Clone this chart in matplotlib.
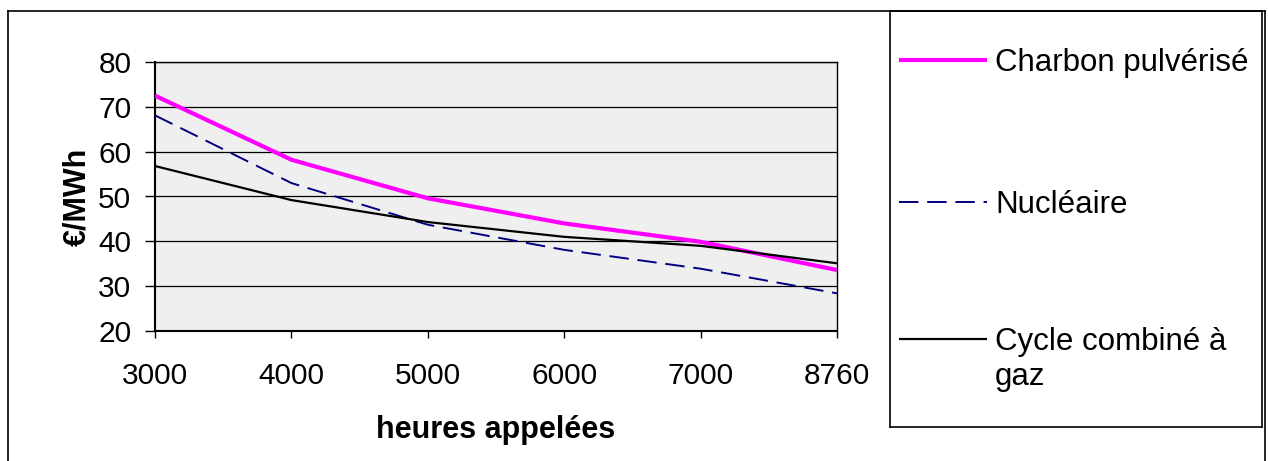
import matplotlib
matplotlib.use("Agg")
import matplotlib.pyplot as plt
from matplotlib.lines import Line2D
import numpy as np

plt.rcParams["font.family"] = ["Liberation Sans", "DejaVu Sans"]
plt.rcParams["font.size"] = 21.5

hours = ["3000", "4000", "5000", "6000", "7000", "8760"]
charbon = [72.5, 58.2, 49.6, 44.0, 39.9, 33.6]
nucleaire = [68.1, 53.0, 43.7, 38.1, 33.9, 28.4]
ccg = [56.8, 49.2, 44.3, 41.0, 39.0, 35.1]

labels = ["Charbon pulvérisé", "Nucléaire", "Cycle combiné à\ngaz"]

W, H = 1268, 461
fig = plt.figure(figsize=(W / 100, H / 100), dpi=100)

# plot area in pixel coordinates
left, right, top, bottom = 155, 837, 62, 331
ax = fig.add_axes([left / W, 1 - bottom / H, (right - left) / W, (bottom - top) / H])
ax.set_facecolor("#efefef")

x = np.arange(len(hours))
styles = [
    dict(color="#ff00ff", linewidth=3.0, linestyle="-"),
    dict(color="#000080", linewidth=1.4, linestyle=(0, (10, 4.5))),
    dict(color="black", linewidth=1.6, linestyle="-"),
]
for series, st in zip([charbon, nucleaire, ccg], styles):
    ax.plot(x, series, solid_capstyle="butt", dash_capstyle="butt", zorder=3, **st)

ax.set_xlim(0, len(hours) - 1)
ax.set_ylim(20, 80)
ax.set_yticks(range(20, 81, 10))
ax.set_xticks(x)
ax.set_xticklabels(hours)
ax.grid(True, axis="y", color="black", linewidth=0.9)
ax.set_axisbelow(True)
for s in ax.spines.values():
    s.set_color("black")
    s.set_linewidth(1)
ax.spines["left"].set_linewidth(1.5)
ax.spines["bottom"].set_linewidth(1.5)
ax.tick_params(axis="y", direction="out", length=7, width=1, pad=10)
ax.tick_params(axis="x", direction="out", length=5, width=1, pad=17)
ax.set_xlabel("heures appelées", fontweight="bold", fontsize=22, labelpad=18)
ax.set_ylabel("€/MWh", fontweight="bold", fontsize=22, labelpad=4)

# outer chart frame (bottom edge falls outside the picture)
for xs, ys in [((8, 8), (11, H + 5)), ((8, 1265), (11, 11)), ((1265, 1265), (11, H + 5))]:
    fig.add_artist(Line2D([v / W for v in xs], [1 - v / H for v in ys], color="black", linewidth=1.2))

# legend box
lx0, lx1, ly0, ly1 = 890, 1262, 11, 427
lax = fig.add_axes([lx0 / W, 1 - ly1 / H, (lx1 - lx0) / W, (ly1 - ly0) / H])
lax.set_xlim(lx0, lx1)
lax.set_ylim(ly1, ly0)
lax.set_xticks([])
lax.set_yticks([])
lax.set_facecolor("white")
for s in lax.spines.values():
    s.set_color("black")
    s.set_linewidth(1.2)
entry_y = [60, 202, 339]
for lab, st, yy in zip(labels, styles, entry_y):
    lax.plot([899, 987], [yy, yy], solid_capstyle="butt", dash_capstyle="butt", **st)
    lax.text(995, yy - 12, lab, ha="left", va="top", fontsize=22.5, linespacing=1.2)

fig.savefig("out.png", dpi=100)
